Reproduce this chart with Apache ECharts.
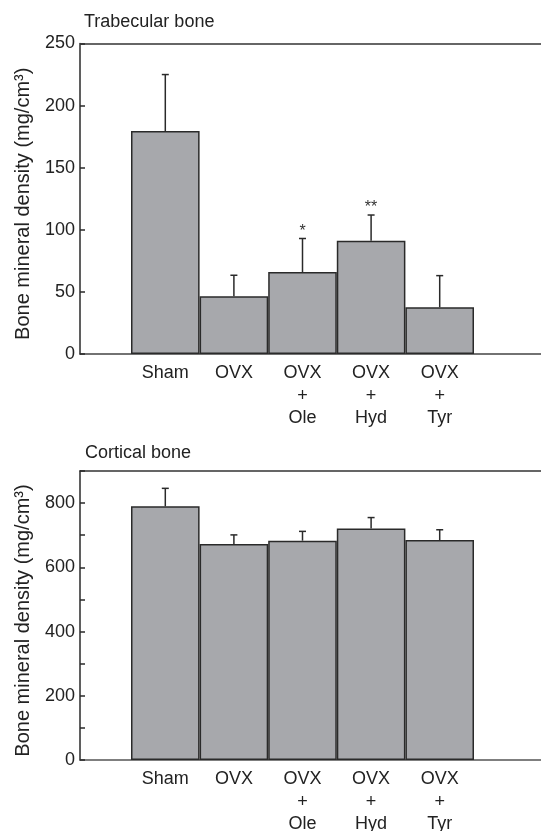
<!DOCTYPE html>
<html>
<head>
<meta charset="utf-8">
<script src="https://cdn.jsdelivr.net/npm/echarts@6/dist/echarts.min.js"></script>
<style>
html,body{margin:0;padding:0;background:#fff;}
#chart{width:541px;height:831px;}
</style>
</head>
<body>
<div id="chart"></div>
<script>
// ---- data ----
var categories = ['Sham', 'OVX', 'OVX\n+\nOle', 'OVX\n+\nHyd', 'OVX\n+\nTyr'];
var trabecularMean = [179.5, 46.4, 66, 91.2, 37.6];
var trabecularSD = [45.5, 17, 27, 20.7, 25.5];
var trabecularStars = ['', '', '*', '**', ''];
var corticalMean = [790, 673, 683, 721, 685];
var corticalSD = [56, 28, 29, 34, 32];
var corticalStars = ['', '', '', '', ''];
var trabecularTicks = {min: 0, max: 250, interval: 50};
var corticalTicks = {min: 0, max: 900, interval: 100, labelEvery: 200};

var FONT = 'Liberation Sans, Arial, Helvetica, sans-serif';
var TXT = '#222';
var BAR = '#a7a8ac';
var EDGE = '#2a2a2a';

var chart = echarts.init(document.getElementById('chart'));

function errData(mean, sd, stars) {
  return mean.map(function (m, i) { return [i, m, m + sd[i], stars[i]]; });
}

function errRender(params, api) {
  var idx = api.value(0);
  var p0 = api.coord([idx, api.value(1)]);
  var p1 = api.coord([idx, api.value(2)]);
  var children = [
    {type: 'line', shape: {x1: p0[0], y1: p0[1], x2: p1[0], y2: p1[1]},
     style: {stroke: EDGE, lineWidth: 1.5}},
    {type: 'line', shape: {x1: p1[0] - 3.5, y1: p1[1], x2: p1[0] + 3.5, y2: p1[1]},
     style: {stroke: EDGE, lineWidth: 1.5}}
  ];
  var s = api.value(3);
  if (s) {
    children.push({type: 'text', x: p1[0], y: p1[1] + 1,
      style: {text: s, fill: '#333', fontSize: 16, fontFamily: FONT,
              align: 'center', verticalAlign: 'bottom'}});
  }
  return {type: 'group', children: children};
}

var grids = [
  {left: 131, right: 67, top: 43.5, bottom: 477, outerBoundsMode: 'none'},
  {left: 80, right: 0, top: 43.5, bottom: 477, outerBoundsMode: 'none'},
  {left: 131, right: 67, top: 471, bottom: 71, outerBoundsMode: 'none'},
  {left: 80, right: 0, top: 471, bottom: 71, outerBoundsMode: 'none'}
];

function catAxis(gi) {
  return {type: 'category', gridIndex: gi, data: categories,
    axisLine: {show: false}, axisTick: {show: false},
    axisLabel: {fontSize: 18, fontFamily: FONT, color: TXT, lineHeight: 22.5, margin: 8, interval: 0}};
}
function frameX(gi, pos, color, w) {
  return {type: 'value', gridIndex: gi, position: pos, min: 0, max: 1,
    axisLine: {show: true, onZero: false, lineStyle: {color: color, width: w}},
    axisTick: {show: false}, axisLabel: {show: false}, splitLine: {show: false}};
}
function valAxis(gi, t, name) {
  return {type: 'value', gridIndex: gi, min: t.min, max: t.max, interval: t.interval,
    offset: 51,
    name: name, nameLocation: 'middle', nameGap: 47, nameRotate: 90,
    nameTextStyle: {fontSize: 20, fontFamily: FONT, color: TXT, padding: [0, 10, 0, 0]},
    axisLine: {show: true, lineStyle: {color: EDGE, width: 1.5}},
    axisTick: {show: true, inside: true, length: 5, lineStyle: {color: EDGE, width: 1.5}},
    axisLabel: {fontSize: 18, fontFamily: FONT, color: TXT, margin: 5,
      formatter: function (v) { return (t.labelEvery ? (v % t.labelEvery === 0 ? String(v) : '') : String(v)); }},
    splitLine: {show: false}};
}
function hiddenY(gi) {
  return {type: 'value', gridIndex: gi, min: 0, max: 1, show: false};
}

var yName = 'Bone mineral density (mg/cm\u00B3)';

var option = {
  backgroundColor: '#fff',
  animation: false,
  title: [
    {text: 'Trabecular bone', left: 79, top: 8,
     textStyle: {fontSize: 18, fontWeight: 'normal', fontFamily: FONT, color: TXT}},
    {text: 'Cortical bone', left: 80, top: 439,
     textStyle: {fontSize: 18, fontWeight: 'normal', fontFamily: FONT, color: TXT}}
  ],
  grid: grids,
  xAxis: [
    catAxis(0),
    frameX(1, 'bottom', '#444', 1.5),
    frameX(1, 'top', '#666', 2),
    catAxis(2),
    frameX(3, 'bottom', '#555', 1.5),
    frameX(3, 'top', '#333', 1.5)
  ],
  yAxis: [
    valAxis(0, trabecularTicks, yName),
    hiddenY(1),
    valAxis(2, corticalTicks, yName),
    hiddenY(3)
  ],
  series: [
    {type: 'bar', xAxisIndex: 0, yAxisIndex: 0, data: trabecularMean,
     barWidth: '100%', barCategoryGap: '0%', z: 5,
     itemStyle: {color: BAR, borderColor: EDGE, borderWidth: 1.5}},
    {type: 'custom', xAxisIndex: 0, yAxisIndex: 0, z: 6,
     data: errData(trabecularMean, trabecularSD, trabecularStars), renderItem: errRender},
    {type: 'bar', xAxisIndex: 3, yAxisIndex: 2, data: corticalMean,
     barWidth: '100%', barCategoryGap: '0%', z: 5,
     itemStyle: {color: BAR, borderColor: EDGE, borderWidth: 1.5}},
    {type: 'custom', xAxisIndex: 3, yAxisIndex: 2, z: 6,
     data: errData(corticalMean, corticalSD, corticalStars), renderItem: errRender}
  ]
};
chart.setOption(option);
</script>
</body>
</html>
